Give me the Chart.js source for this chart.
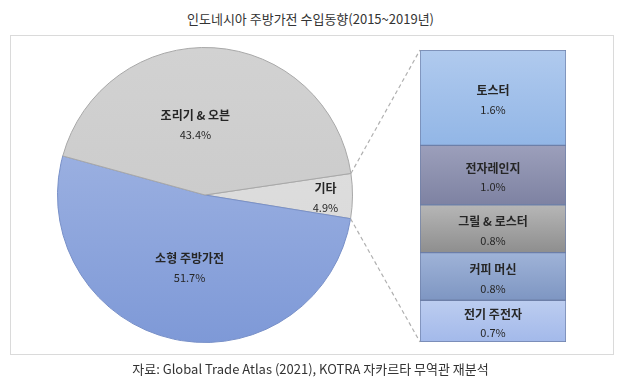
<!DOCTYPE html>
<html>
<head>
    <meta charset="utf-8">
    <title>인도네시아 주방가전 수입동향</title>
    <script src="https://cdn.jsdelivr.net/npm/chart.js"></script>
    <style>
        body { margin: 0; background: #fff; width: 621px; height: 392px; position: relative; overflow: hidden;
               font-family: "Noto Sans CJK KR", "Noto Sans", sans-serif; }
        #title { position: absolute; left: 0; top: 9px; width: 621px; text-align: center; font-size: 13px; color: #333; }
        #source { position: absolute; left: 0; top: 359px; width: 621px; text-align: center; font-size: 13px; color: #333; }
        #box { position: absolute; left: 10px; top: 35px; width: 602px; height: 318px; border: 1px solid #dadada; }
        #pieWrap { position: absolute; left: 57px; top: 47px; width: 296px; height: 296px; }
        #barWrap { position: absolute; left: 415px; top: 45px; width: 156px; height: 302px; }
        #overlay { position: absolute; left: 0; top: 0; pointer-events: none; }
    </style>
</head>
<body>
    <div id="title">인도네시아 주방가전 수입동향(2015~2019년)</div>
    <div id="box"></div>
    <div id="pieWrap"><canvas id="pieChart" width="296" height="296"></canvas></div>
    <div id="barWrap"><canvas id="barChart" width="156" height="302"></canvas></div>
    <canvas id="overlay" width="621" height="392"></canvas>
    <div id="source">자료: Global Trade Atlas (2021), KOTRA 자카르타 무역관 재분석</div>
    <script>
        // pie: share of kitchen appliance imports (%)
        const pieLabels = ['기타', '소형 주방가전', '조리기 & 오븐'];
        const pieValues = [4.9, 51.7, 43.4];

        // breakdown of '기타' (top to bottom as in the bar)
        const barLabels = ['토스터', '전자레인지', '그릴 & 로스터', '커피 머신', '전기 주전자'];
        const barValues = [1.6, 1.0, 0.8, 0.8, 0.7];

        const FONT = '"Noto Sans CJK KR", "Noto Sans", sans-serif';
        const pieTop = ['#e0e0e0', '#aabce6', '#d2d2d2'];
        const pieBottom = ['#d8d8d8', '#7e99d7', '#c6c6c6'];
        const pieBorder = ['#a8a8a8', '#7890c8', '#a8a8a8'];
        const barTop = ['#b0caee', '#9c9fbb', '#b6b6b6', '#9fb3d8', '#bccdf0'];
        const barBottom = ['#92b6e6', '#7e82a2', '#8e8e8e', '#7e96c2', '#a3b9ea'];

        function fmt(v) { return v.toFixed(1) + '%'; }

        function drawTwoLines(ctx, name, pct, x, y) {
            ctx.save();
            ctx.fillStyle = '#262626';
            ctx.textAlign = 'center';
            ctx.textBaseline = 'middle';
            ctx.font = 'bold 12px ' + FONT;
            ctx.fillText(name, x, y - 7);
            ctx.font = '11px ' + FONT;
            ctx.fillText(pct, x, y + 12);
            ctx.restore();
        }

        const pieLabelPlugin = {
            id: 'pieLabels',
            afterDatasetsDraw(chart) {
                const ctx = chart.ctx;
                const meta = chart.getDatasetMeta(0);
                meta.data.forEach((arc, i) => {
                    const mid = (arc.startAngle + arc.endAngle) / 2;
                    const f = pieValues[i] < 10 ? 0.83 : 0.49;
                    let x = arc.x + Math.cos(mid) * arc.outerRadius * f;
                    let y = arc.y + Math.sin(mid) * arc.outerRadius * f;
                    if (i === 2) x -= 14;
                    if (i === 0) x -= 2;
                    drawTwoLines(ctx, pieLabels[i], fmt(pieValues[i]), x, y);
                });
            }
        };

        const barLabelPlugin = {
            id: 'barLabels',
            afterDatasetsDraw(chart) {
                const ctx = chart.ctx;
                chart.data.datasets.forEach((ds, i) => {
                    const bar = chart.getDatasetMeta(i).data[0];
                    const mid = (bar.y + bar.base) / 2;
                    drawTwoLines(ctx, ds.label, fmt(ds.data[0]), bar.x, mid);
                });
            }
        };

        const pieChart = new Chart(document.getElementById('pieChart'), {
            type: 'pie',
            data: {
                labels: pieLabels,
                datasets: [{
                    data: pieValues,
                    backgroundColor: (c) => {
                        const area = c.chart.chartArea;
                        if (!area) return pieTop[c.dataIndex];
                        const g = c.chart.ctx.createLinearGradient(0, area.top, 0, area.bottom);
                        g.addColorStop(0, pieTop[c.dataIndex]);
                        g.addColorStop(1, pieBottom[c.dataIndex]);
                        return g;
                    },
                    borderColor: pieBorder,
                    borderWidth: 1
                }]
            },
            options: {
                responsive: false,
                animation: false,
                rotation: 81.6,
                layout: { padding: 0 },
                plugins: { legend: { display: false }, tooltip: { enabled: false } }
            },
            plugins: [pieLabelPlugin]
        });

        // stacked bar: first dataset sits at the bottom, so reverse
        const order = barLabels.map((_, i) => i).reverse();
        const total = barValues.reduce((a, b) => a + b, 0);

        const barChart = new Chart(document.getElementById('barChart'), {
            type: 'bar',
            data: {
                labels: ['기타'],
                datasets: order.map((k, n) => ({
                    label: barLabels[k],
                    data: [barValues[k]],
                    backgroundColor: (c) => {
                        const ys = c.chart.scales.y;
                        if (!ys) return barTop[k];
                        let below = 0;
                        for (let j = 0; j < n; j++) below += barValues[order[j]];
                        const top = ys.getPixelForValue(below + barValues[k]);
                        const bottom = ys.getPixelForValue(below);
                        if (!isFinite(top) || !isFinite(bottom)) return barTop[k];
                        const g = c.chart.ctx.createLinearGradient(0, top, 0, bottom);
                        g.addColorStop(0, barTop[k]);
                        g.addColorStop(1, barBottom[k]);
                        return g;
                    },
                    borderColor: '#6d7fa8',
                    borderWidth: 1,
                    borderSkipped: false,
                    barPercentage: 1,
                    categoryPercentage: 1
                }))
            },
            options: {
                responsive: false,
                animation: false,
                layout: { padding: 5 },
                scales: {
                    x: { stacked: true, display: false },
                    y: { stacked: true, display: false, min: 0, max: total }
                },
                plugins: { legend: { display: false }, tooltip: { enabled: false } }
            },
            plugins: [barLabelPlugin]
        });

        // dashed connectors from the '기타' slice to the bar
        const pieBox = document.getElementById('pieWrap');
        const barBox = document.getElementById('barWrap');
        const arc = pieChart.getDatasetMeta(0).data[0];
        const topBar = barChart.getDatasetMeta(barChart.data.datasets.length - 1).data[0];
        const bottomBar = barChart.getDatasetMeta(0).data[0];
        const px = pieBox.offsetLeft, py = pieBox.offsetTop;
        const bx = barBox.offsetLeft, by = barBox.offsetTop;

        const o = document.getElementById('overlay').getContext('2d');
        o.strokeStyle = '#b0b0b0';
        o.lineWidth = 1.2;
        o.setLineDash([4, 3]);
        o.beginPath();
        o.moveTo(px + arc.x + Math.cos(arc.startAngle) * arc.outerRadius, py + arc.y + Math.sin(arc.startAngle) * arc.outerRadius);
        o.lineTo(bx + topBar.x - topBar.width / 2, by + topBar.y);
        o.moveTo(px + arc.x + Math.cos(arc.endAngle) * arc.outerRadius, py + arc.y + Math.sin(arc.endAngle) * arc.outerRadius);
        o.lineTo(bx + bottomBar.x - bottomBar.width / 2, by + bottomBar.base);
        o.stroke();
    </script>
</body>
</html>
